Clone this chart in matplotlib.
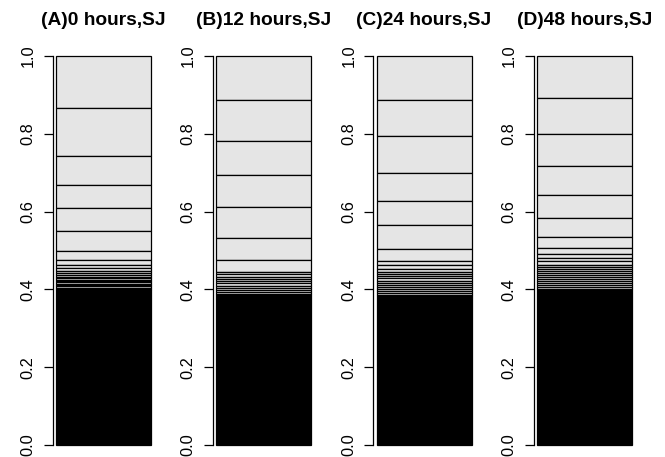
import matplotlib
matplotlib.use("Agg")
import matplotlib.pyplot as plt
import numpy as np

# segment boundaries (top of each stacked segment, top down)
bounds_0h = [1.0, 0.8655, 0.7438, 0.6684, 0.6084, 0.5510, 0.4985, 0.4750, 0.4630,
             0.4550, 0.4475, 0.4420, 0.4370, 0.4325, 0.4285, 0.4250, 0.4215, 0.4180,
             0.4145, 0.4110, 0.4075, 0.4040, 0.4010, 0.3980]
bounds_12h = [1.0, 0.8869, 0.7815, 0.6933, 0.6110, 0.5313, 0.4756, 0.4456, 0.4396,
              0.4327, 0.4267, 0.4208, 0.4156, 0.4096, 0.4045, 0.3985, 0.3925, 0.3873]
bounds_24h = [1.0, 0.8869, 0.7935, 0.6992, 0.6264, 0.5647, 0.5047, 0.4730, 0.4620,
              0.4525, 0.4456, 0.4396, 0.4344, 0.4285, 0.4224, 0.4173, 0.4121, 0.4070,
              0.4019, 0.3967, 0.3916, 0.3864]
bounds_48h = [1.0, 0.8929, 0.8003, 0.7164, 0.6427, 0.5844, 0.5347, 0.5073, 0.4915,
              0.4808, 0.4722, 0.4640, 0.4584, 0.4524, 0.4473, 0.4422, 0.4370, 0.4319,
              0.4267, 0.4216, 0.4165, 0.4113, 0.4062, 0.4010]
titles = ["(A)0 hours,SJ", "(B)12 hours,SJ", "(C)24 hours,SJ", "(D)48 hours,SJ"]
yticks = [0.0, 0.2, 0.4, 0.6, 0.8, 1.0]

plt.rcParams['font.family'] = ['Liberation Sans', 'DejaVu Sans']

W, H = 665, 457
fig = plt.figure(figsize=(W / 100, H / 100), dpi=100)

bar_left = [56, 216, 376.5, 537]  # pixels
bar_w = 95
gap = 3.5
y0, y1 = 445, 56

for i, bnds in enumerate([bounds_0h, bounds_12h, bounds_24h, bounds_48h]):
    left_px = bar_left[i] - gap
    width_px = gap + bar_w + 6
    ax = fig.add_axes([left_px / W, (H - y0) / H, width_px / W, (y0 - y1) / H])
    tops = np.array(bnds)
    bottoms = np.append(tops[1:], 0.0)
    heights = tops - bottoms
    colors = ['#E5E5E5'] * (len(tops) - 1) + ['black']
    ax.bar(0.5, heights, bottom=bottoms, width=1.0, color=colors,
           edgecolor='black', linewidth=0.9, clip_on=False)
    ax.set_xlim(-gap / bar_w, 1 + 6 / bar_w)
    ax.set_ylim(0, 1)
    for s in ['top', 'right', 'bottom']:
        ax.spines[s].set_visible(False)
    ax.spines['left'].set_linewidth(0.9)
    ax.set_xticks([])
    ax.set_yticks(yticks)
    ax.set_yticklabels([f"{t:.1f}" for t in yticks], rotation=90, va='center')
    ax.tick_params(axis='y', length=6.5, width=0.9, pad=5.5, labelsize=11.8)
    ax.set_facecolor('none')
    cx = (bar_left[i] + bar_w / 2) / W
    fig.text(cx, 1 - 25 / H, titles[i], ha='center', va='baseline',
             fontsize=13.8, fontweight='bold')

fig.savefig("out.png", dpi=100)
